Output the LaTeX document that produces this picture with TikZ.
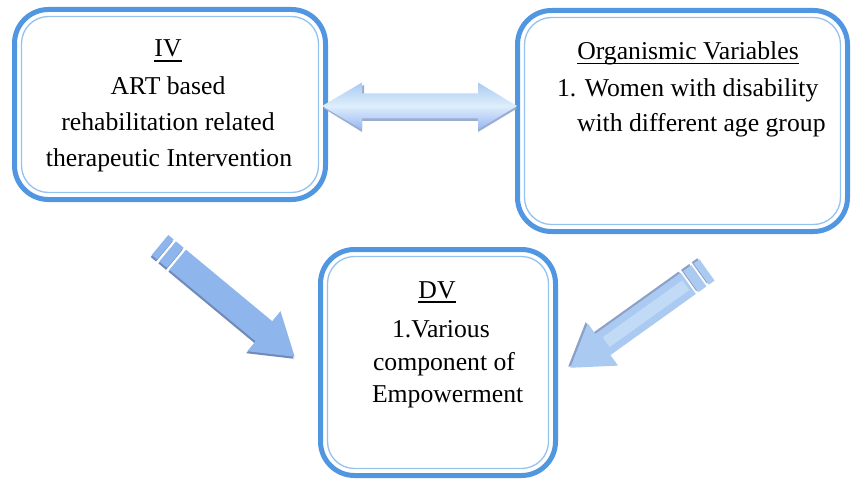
\documentclass[tikz,border=0pt]{standalone}
\usepackage{fontspec}
\setmainfont{Liberation Serif}
\definecolor{boxblue}{RGB}{80,150,224}
\definecolor{boxlight}{RGB}{150,194,238}
\definecolor{arrowfill}{RGB}{143,182,236}
\definecolor{arrowshadow}{RGB}{112,138,186}
\definecolor{arrowlight}{RGB}{222,238,252}
\definecolor{arrowmid}{RGB}{170,202,242}
\newcommand\stripedarrow[2]{%
  \fill[#2] (0,-13) -- (7,-13) -- (7,13) -- (0,13) -- cycle
    (10,-13) -- (20,-13) -- (20,13) -- (10,13) -- cycle
    (23,-13) -- ({#1-40},-13) -- ({#1-40},-26) -- (#1,0) -- ({#1-40},26) -- ({#1-40},13) -- (23,13) -- cycle;}
\begin{document}
\begin{tikzpicture}[x=1pt,y=-1pt,
  every node/.style={inner sep=0pt, outer sep=0pt},
  box/.style={draw=boxblue, line width=5pt, rounded corners=34pt, fill=white},
  innerline/.style={draw=boxlight, line width=1.3pt, rounded corners=27pt},
  txt/.style={font=\fontsize{25.7}{30}\selectfont, text=black},
  uline/.style={line width=1.2pt, black}]
\useasboundingbox (0,0) rectangle (853,481);

% boxes
\node[box, minimum width=311pt, minimum height=190pt] (iv) at (170,104.5) {};
\node[box, minimum width=330pt, minimum height=221pt] (ov) at (682.5,121) {};
\node[box, minimum width=235pt, minimum height=226pt] (dv) at (438,362.5) {};
\foreach \b in {iv,ov,dv}
  \draw[innerline] ([shift={(7,7)}]\b.north west) rectangle ([shift={(-7,-7)}]\b.south east);

% IV text
\node[txt, anchor=base] (ivt) at (168,57) {IV};
\draw[uline] ([yshift=-4pt]ivt.base west) -- ([yshift=-4pt]ivt.base east);
\node[txt, anchor=base] (iv1) at (168,95) {ART based};
\node[txt, anchor=base] (iv2) at (168,131) {rehabilitation related};
\node[txt, anchor=base] (iv3) at (169,167) {therapeutic Intervention};

% OV text
\node[txt, anchor=base] (ovt) at (688,60) {Organismic Variables};
\draw[uline] ([yshift=-3.5pt]ovt.base west) -- ([yshift=-3.5pt]ovt.base east);
\node[txt, anchor=base west] (ov1) at (557,97) {1. Women with disability};
\node[txt, anchor=base west] (ov2) at (577,132) {with different age group};

% DV text
\node[txt, anchor=base] (dvt) at (437,298) {DV};
\draw[uline] ([yshift=-4pt]dvt.base west) -- ([yshift=-4pt]dvt.base east);
\node[txt, anchor=base west] (dv1) at (392,337) {1.Various};
\node[txt, anchor=base west] (dv2) at (373,370) {component of};
\node[txt, anchor=base west] (dv3) at (372,402) {Empowerment};

% double arrow between IV and OV
\coordinate (dl) at (322,106);
\coordinate (dr) at (517,106);
\fill[arrowshadow!70] ([shift={(2,2.5)}]dl) -- ++(40,-23.5) -- ++(0,11) -- ++(116,0) -- ++(0,-11) -- ([shift={(0,2.5)}]dr) -- ++(-39,23.5) -- ++(0,-11) -- ++(-116,0) -- ++(0,11) -- cycle;
\shade[top color=arrowmid, bottom color=arrowmid!90!blue, middle color=arrowlight]
  (dl) -- ++(40,-23.5) -- ++(0,11) -- ++(116,0) -- ++(0,-11) -- (dr) -- ++(-39,23.5) -- ++(0,-11) -- ++(-116,0) -- ++(0,11) -- cycle;

% diagonal arrows
\coordinate (lt) at (160,245);
\coordinate (lh) at (295,357);
\coordinate (rt) at (707,270);
\coordinate (rh) at (570,368);
\begin{scope}[shift={(lt)}, x={(0.7697pt,-0.6385pt)}, y={(0.6385pt,0.7697pt)}]
  \begin{scope}[shift={(0.5,-2.2)}]\stripedarrow{175}{arrowshadow}\end{scope}
  \stripedarrow{175}{arrowfill}
\end{scope}
\begin{scope}[shift={(rt)}, x={(-0.8135pt,-0.5819pt)}, y={(0.5819pt,-0.8135pt)}]
  \begin{scope}[shift={(1,-2.2)}]\stripedarrow{168}{arrowshadow!80}\end{scope}
  \stripedarrow{168}{arrowmid}
  \fill[arrowlight, opacity=0.45] (26,-6) -- (124,-6) -- (124,6) -- (26,6) -- cycle;
\end{scope}
\end{tikzpicture}
\end{document}
